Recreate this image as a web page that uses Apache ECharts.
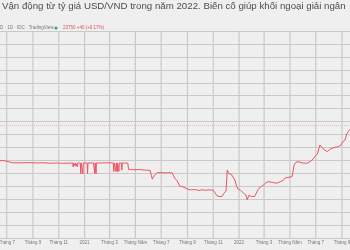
<!DOCTYPE html>
<html><head><meta charset="utf-8">
<script src="https://cdn.jsdelivr.net/npm/echarts@6/dist/echarts.min.js"></script>
<style>html,body{margin:0;padding:0;background:#efefef}#c{width:350px;height:250px}</style>
</head><body><div id="c"></div>
<script>
const titleText = 'Vận động từ tỷ giá USD/VND trong năm 2022. Biến cố giúp khối ngoại giải ngân';
const headerText = 'D · 1D · IDC · TradingView';
const priceText = '23750 +40 (+0.17%)';
const lastPrice = 23750;
const tickDates = ['2020-07-01','2020-09-01','2020-11-01','2021-01-01','2021-03-01','2021-05-01','2021-07-01','2021-09-01','2021-11-01','2022-01-01','2022-03-01','2022-05-01','2022-07-01','2022-09-01'];
const tickLabels = ['Tháng 7','Tháng 9','Tháng 11','2021','Tháng 3','Tháng Năm','Tháng 7','Tháng 9','Tháng 11','2022','Tháng 3','Tháng Năm','Tháng 7','Tháng 9'];
const dates = ['2020-06-15','2020-06-22','2020-06-29','2020-07-03','2020-07-15','2020-08-01','2020-08-20','2020-09-10','2020-09-25','2020-10-12','2020-10-26','2020-11-10','2020-11-28',
'2020-12-04','2020-12-05','2020-12-06','2020-12-09','2020-12-10','2020-12-11','2020-12-14','2020-12-15','2020-12-16','2020-12-22','2020-12-23','2020-12-24','2020-12-27','2020-12-28','2020-12-29',
'2021-01-07','2021-01-08','2021-01-09','2021-01-22','2021-01-25','2021-01-26','2021-01-27','2021-01-28','2021-01-29','2021-02-10','2021-02-25',
'2021-03-10','2021-03-11','2021-03-12','2021-03-15','2021-03-16','2021-03-17','2021-03-18','2021-03-19','2021-03-20','2021-03-22','2021-03-23','2021-03-24','2021-03-29','2021-03-30','2021-03-31',
'2021-04-13','2021-04-15','2021-04-25','2021-05-10','2021-05-25','2021-06-05','2021-06-08','2021-06-10','2021-06-14','2021-06-21','2021-07-01','2021-07-10','2021-07-20','2021-07-27',
'2021-08-02','2021-08-08','2021-08-14','2021-08-22','2021-09-02','2021-09-10','2021-09-20','2021-09-28','2021-10-05','2021-10-15','2021-10-22','2021-10-31',
'2021-11-05','2021-11-10','2021-11-17','2021-11-22','2021-11-26','2021-12-01','2021-12-04','2021-12-07','2021-12-10','2021-12-14','2021-12-18','2021-12-22','2021-12-26','2021-12-29',
'2022-01-04','2022-01-08','2022-01-12','2022-01-17','2022-01-20','2022-01-24','2022-01-31','2022-02-07','2022-02-14','2022-02-20','2022-02-26','2022-03-05','2022-03-10','2022-03-20','2022-03-31',
'2022-04-08','2022-04-15','2022-04-20','2022-04-24','2022-05-06','2022-05-09','2022-05-11','2022-05-15','2022-05-20','2022-05-30','2022-06-10','2022-06-20','2022-06-29',
'2022-07-05','2022-07-11','2022-07-18','2022-07-28','2022-08-03','2022-08-08','2022-08-15','2022-08-23','2022-08-30','2022-09-03','2022-09-08','2022-09-13','2022-09-20'];
const rates = [23195,23198,23190,23170,23163,23162,23165,23160,23163,23156,23160,23155,23158,
23160,23100,23160,23160,23110,23160,23160,23100,23160,23160,22990,23160,23160,22990,23160,
23160,22995,23160,23160,23000,23160,23160,22990,23160,23160,23162,
23160,23025,23160,23160,23030,23160,23160,23020,23160,23160,23030,23160,23160,23050,23160,
23158,23060,23055,23058,23050,23045,22960,22910,22960,23010,23012,23005,23010,23005,
22925,22880,22800,22790,22753,22745,22748,22735,22745,22738,22745,22740,
22700,22650,22640,22645,22690,22727,23052,23000,23030,22980,22960,22897,22800,22760,
22740,22720,22690,22665,22590,22660,22640,22645,22740,22790,22810,22850,22871,22860,22846,
22870,22890,22930,22948,22948,22960,23129,23170,23180,23160,23155,23190,23257,
23300,23438,23380,23335,23370,23387,23400,23412,23440,23489,23515,23619,23681];

const yMin = 22000, yMax = 25200;
const gridColor = '#c9c9c9';
const font = 'Liberation Sans, Arial, sans-serif';
const seriesData = dates.map((d, i) => [d, rates[i]]);
const chart = echarts.init(document.getElementById('c'), null, {renderer: 'canvas'});
const vSeries = tickDates.map((d, i) => ({
  type: 'line', name: 'v' + i, data: [[d, yMin], [d, yMax]], showSymbol: false, symbol: 'none',
  lineStyle: {color: gridColor, width: 1.2, opacity: 1}, itemStyle: {color: gridColor}
}));
chart.setOption({
  backgroundColor: '#efefef',
  animation: false,
  title: {text: titleText, left: 2, top: 1.5, padding: 0, textStyle: {fontSize: 9.7, fontWeight: 'normal', color: '#4d4d4d', fontFamily: font}},
  graphic: [
    {type: 'text', left: 0, top: 25.5, style: {text: headerText, fontSize: 4.5, fill: '#777', fontFamily: font}},
    {type: 'circle', shape: {cx: 56, cy: 28, r: 1.6}, style: {fill: '#26a69a'}},
    {type: 'text', left: 63, top: 25.5, style: {text: priceText, fontSize: 4.5, fill: '#e05260', fontFamily: font}}
  ],
  grid: {left: 0, right: 0, top: 31, bottom: 12},
  xAxis: {type: 'time', min: '2020-06-15 05:00', max: '2022-09-19 22:00',
    axisLine: {show: false}, axisTick: {show: false}, axisLabel: {show: false}, splitLine: {show: false}},
  yAxis: {type: 'value', min: yMin, max: yMax, interval: 200,
    axisLine: {show: false}, axisTick: {show: false}, axisLabel: {show: false},
    splitLine: {show: true, lineStyle: {color: gridColor, width: 1}}},
  series: vSeries.concat([
    {type: 'custom', clip: false,
      data: tickDates.map((d, i) => [d, i]),
      renderItem: function (params, api) {
        const cs = params.coordSys;
        const x = api.coord([api.value(0), yMin])[0];
        return {type: 'text', style: {text: tickLabels[api.value(1)], x: x, y: cs.y + cs.height + 2, align: 'center', verticalAlign: 'top', fontSize: 4.5, fill: '#777', fontFamily: font}};
      }},
    {type: 'line', data: seriesData, showSymbol: false, symbol: 'none', z: 3,
      lineStyle: {color: '#ef5361', width: 1},
      markLine: {silent: true, symbol: 'none', animation: false,
        lineStyle: {color: '#e6b9bd', type: [1, 1], width: 1}, label: {show: false},
        data: [{yAxis: lastPrice}]}}
  ])
});
</script></body></html>
